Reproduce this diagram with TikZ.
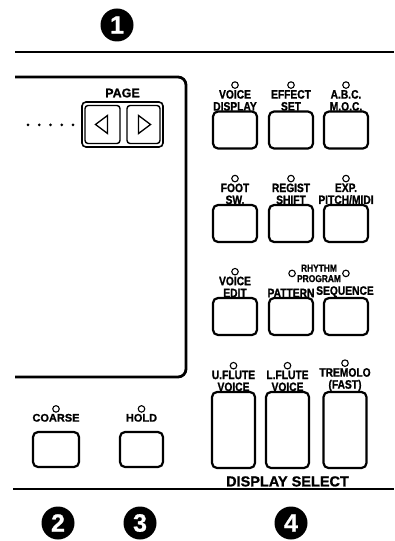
\documentclass[tikz,border=0pt]{standalone}
\usepackage{fontspec}
\setmainfont{Liberation Sans}[BoldFeatures={FakeBold=1}]
\newfontfamily\condfont[FakeStretch=0.84, BoldFeatures={FakeBold=1.2}]{Liberation Sans}
\usetikzlibrary{positioning,calc}

\tikzset{
  rule/.style={line width=2.8bp},
  frame/.style={line width=2.8bp, rounded corners=8bp},
  panelbtn/.style={draw, line width=2.2bp, rounded corners=5bp, minimum width=44bp, minimum height=37bp, inner sep=0pt},
  tallbtn/.style={panelbtn, minimum width=43bp, minimum height=76bp},
  pagebtn/.style={draw, line width=1.4bp, rounded corners=3bp, minimum height=38bp, inner sep=0pt},
  led/.style={circle, draw, line width=1.1bp, inner sep=0pt, minimum size=6.5bp},
  btnlabel/.style={font=\condfont\bfseries\fontsize{12.2bp}{12bp}\selectfont, align=center, inner sep=0pt},
  smalllabel/.style={font=\bfseries\fontsize{11bp}{12bp}\selectfont, align=center, inner sep=0pt},
  tinylabel/.style={font=\condfont\bfseries\fontsize{10bp}{10.5bp}\selectfont, align=center, inner sep=0pt},
  callout/.style={circle, fill=black, text=white, inner sep=0pt, minimum size=33bp, font=\bfseries\fontsize{25bp}{25bp}\selectfont},
  dot/.style={circle, fill=black, inner sep=0pt, minimum size=3bp}
}

\begin{document}
\begin{tikzpicture}[x=1bp,y=-1bp]
\useasboundingbox (0,0) rectangle (394,541);

% rules and display frame
\coordinate (topL) at (15,52);
\coordinate (topR) at (394,52);
\coordinate (botL) at (13,489);
\coordinate (botR) at (394,489);
\draw[rule] (topL) -- (topR);
\draw[rule] (botL) -- (botR);
\draw[frame] (15,77) -- (186,77) -- (186,377) -- (15,377);

% callouts
\node[callout] (n1) at (117,25) {1};
\node[callout] (n2) at (58,523) {2};
\node[callout] (n3) at (140,523) {3};
\node[callout] (n4) at (291,523) {4};

% page buttons
\draw[line width=1.6bp, rounded corners=4bp] (82,102) rectangle (163,147);
\node[pagebtn, minimum width=35bp] (pgL) at (102.5,124.5) {};
\node[pagebtn, minimum width=33bp] (pgR) at (143.5,124.5) {};
\node[font=\bfseries\fontsize{12.5bp}{13bp}\selectfont, inner sep=0pt] (lPage) at (122.5,93) {PAGE};
\draw[line width=1.3bp, line join=miter] ($(pgL)+(5,-9)$) -- ($(pgL)+(-7,0)$) -- ($(pgL)+(5,9)$) -- cycle;
\draw[line width=1.3bp, line join=miter] ($(pgR)+(-5,-9)$) -- ($(pgR)+(7,0)$) -- ($(pgR)+(-5,9)$) -- cycle;
\foreach \i in {0,...,4}
  \node[dot] (d\i) at (28+11.25*\i,125) {};

% row 1
\node[panelbtn] (b11) at (235,130) {};
\node[panelbtn] (b12) at (291,130) {};
\node[panelbtn] (b13) at (346,130) {};
\node[btnlabel, above=-0.5bp of b11] (l11) {VOICE\\DISPLAY};
\node[btnlabel, above=-0.5bp of b12] (l12) {EFFECT\\SET};
\node[btnlabel, above=-0.5bp of b13] (l13) {A.B.C.\\M.O.C.};
\node[led, above=1bp of l11] (e11) {};
\node[led, above=1bp of l12] (e12) {};
\node[led, above=1bp of l13] (e13) {};

% row 2
\node[panelbtn] (b21) at (235,223.5) {};
\node[panelbtn] (b22) at (291,223.5) {};
\node[panelbtn] (b23) at (346,223.5) {};
\node[btnlabel, above=-0.5bp of b21] (l21) {FOOT\\SW.};
\node[btnlabel, above=-0.5bp of b22] (l22) {REGIST\\SHIFT};
\node[btnlabel, above=-0.5bp of b23] (l23) {EXP.\\PITCH/MIDI};
\node[led, above=1bp of l21] (e21) {};
\node[led, above=1bp of l22] (e22) {};
\node[led, above=1bp of l23] (e23) {};

% row 3
\node[panelbtn] (b31) at (235,316.5) {};
\node[panelbtn] (b32) at (291,316.5) {};
\node[panelbtn] (b33) at (346,316.5) {};
\node[btnlabel, above=-0.5bp of b31] (l31) {VOICE\\EDIT};
\node[btnlabel, above=-0.5bp of b32] (l32) {PATTERN};
\node[btnlabel, above=-0.5bp of b33, xshift=-1bp] (l33) {SEQUENCE};
\node[led, above=1bp of l31] (e31) {};
\node[tinylabel, anchor=south] (lRhy) at ($(l32.north)!0.5!(l33.north)+(1,-5)$) {RHYTHM\\PROGRAM};
\node[led, left=1bp of lRhy] (e32) {};
\node[led, right=1bp of lRhy] (e33) {};

% row 4
\node[tallbtn] (b41) at (233.5,430) {};
\node[tallbtn] (b42) at (287.5,430) {};
\node[tallbtn] (b43) at (345,430) {};
\node[btnlabel, above=-0.5bp of b41] (l41) {U.FLUTE\\VOICE};
\node[btnlabel, above=-0.5bp of b42] (l42) {L.FLUTE\\VOICE};
\node[btnlabel, above=-0.5bp of b43] (l43) {TREMOLO\\(FAST)};
\node[led, above=1bp of l41] (e41) {};
\node[led, above=1bp of l42] (e42) {};
\node[led, above=1bp of l43] (e43) {};
\node[font=\bfseries\fontsize{14.5bp}{15bp}\selectfont, inner sep=0pt, below=7bp of b42] (lSel) {DISPLAY SELECT};

% coarse / hold
\node[panelbtn, minimum width=46bp, minimum height=35bp] (bCoarse) at (56,449.5) {};
\node[panelbtn, minimum width=43bp, minimum height=35bp] (bHold) at (141.5,449.5) {};
\node[smalllabel, above=9bp of bCoarse] (lCoarse) {COARSE};
\node[smalllabel, above=9bp of bHold] (lHold) {HOLD};
\node[led, above=1bp of lCoarse] (eCoarse) {};
\node[led, above=1bp of lHold] (eHold) {};
\end{tikzpicture}
\end{document}
